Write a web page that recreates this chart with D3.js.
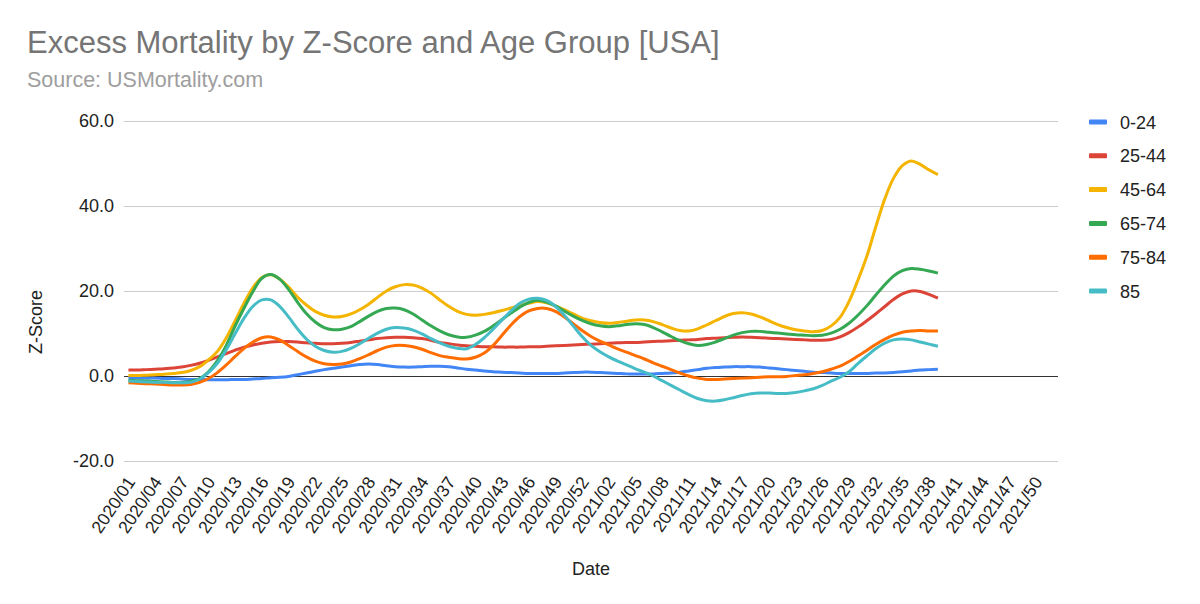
<!DOCTYPE html>
<html>
<head>
<meta charset="utf-8">
<script src="https://cdn.jsdelivr.net/npm/d3@7.9.0/dist/d3.min.js"></script>
<style>
  body { margin: 0; background: #fff; }
  svg { display: block; font-family: "Liberation Sans", Arial, Helvetica, sans-serif; }
</style>
</head>
<body>
<svg id="chart" width="1200" height="604"></svg>
<script>
// week labels: 2020 has 53 ISO weeks, 2021 has 52
const weeks2020 = d3.range(1, 54).map((w) => `2020/${String(w).padStart(2, '0')}`);
const weeks2021 = d3.range(1, 53).map((w) => `2021/${String(w).padStart(2, '0')}`);
const weeks = weeks2020.concat(weeks2021);

const yTicks = [-20, 0, 20, 40, 60];
const ageGroups = ['0-24', '25-44', '45-64', '65-74', '75-84', '85'];
const colors = ['#4285F4', '#DB4437', '#F4B400', '#34A853', '#FF6D01', '#46BDC6'];

// z-scores per week, 2020/01 .. 2021/39
const age0_24 = [
  -0.4, -0.4, -0.5, -0.5, -0.6, -0.6, -0.7, -0.8, -0.8, -0.9, -0.9, -0.9, -0.8, -0.8, -0.7, -0.6,
  -0.4, -0.3, -0.1, 0.3, 0.7, 1.1, 1.5, 1.8, 2.1, 2.4, 2.7, 2.8, 2.7, 2.4, 2.2, 2.1,
  2.1, 2.2, 2.3, 2.3, 2.2, 1.9, 1.6, 1.4, 1.2, 1.0, 0.9, 0.8, 0.7, 0.6, 0.6, 0.6,
  0.6, 0.7, 0.8, 0.9, 0.9, 0.8, 0.7, 0.6, 0.5, 0.5, 0.5, 0.5, 0.6, 0.7, 0.9, 1.2,
  1.5, 1.8, 2.0, 2.1, 2.2, 2.2, 2.2, 2.1, 1.9, 1.7, 1.5, 1.3, 1.1, 0.9, 0.8, 0.7,
  0.6, 0.6, 0.6, 0.6, 0.7, 0.7, 0.8, 1.0, 1.2, 1.4, 1.5, 1.6
];
const age25_44 = [
  1.4, 1.4, 1.5, 1.6, 1.7, 1.9, 2.1, 2.5, 3.0, 3.7, 4.5, 5.3, 6.1, 6.8, 7.3, 7.7,
  8.0, 8.1, 8.1, 8.0, 7.8, 7.7, 7.6, 7.6, 7.7, 7.9, 8.2, 8.5, 8.8, 9.0, 9.1, 9.1,
  9.0, 8.8, 8.4, 7.9, 7.6, 7.3, 7.1, 7.0, 6.9, 6.9, 6.8, 6.8, 6.8, 6.9, 6.9, 7.0,
  7.1, 7.2, 7.3, 7.4, 7.5, 7.6, 7.7, 7.8, 7.9, 7.9, 8.0, 8.1, 8.2, 8.3, 8.4, 8.5,
  8.6, 8.8, 8.9, 9.0, 9.1, 9.2, 9.1, 9.0, 8.9, 8.8, 8.7, 8.6, 8.5, 8.4, 8.4, 8.6,
  9.2, 10.2, 11.5, 13.0, 14.6, 16.3, 18.0, 19.3, 20.0, 19.9, 19.2, 18.3
];
const age45_64 = [
  0.1, 0.1, 0.2, 0.3, 0.4, 0.6, 0.8, 1.3, 2.2, 3.8, 5.8, 9.0, 13.0, 17.2, 20.8, 23.2,
  23.8, 22.8, 20.9, 18.6, 16.7, 15.2, 14.3, 13.9, 14.0, 14.6, 15.6, 16.9, 18.5, 20.0, 21.0, 21.5,
  21.4, 20.7, 19.5, 17.9, 16.4, 15.2, 14.5, 14.3, 14.5, 14.9, 15.4, 16.0, 16.6, 17.1, 17.5, 17.2,
  16.5, 15.6, 14.6, 13.6, 13.0, 12.6, 12.4, 12.6, 12.9, 13.2, 13.2, 12.8, 12.1, 11.3, 10.7, 10.6,
  11.1, 12.0, 13.0, 14.0, 14.7, 14.9, 14.6, 13.9, 13.0, 12.1, 11.4, 10.9, 10.6, 10.4, 10.7, 11.8,
  13.8, 17.5, 22.5, 28.1, 35.0, 41.5, 46.5, 49.5, 50.6, 49.8, 48.5, 47.4
];
const age65_74 = [
  -1.0, -1.1, -1.2, -1.3, -1.4, -1.5, -1.5, -1.3, -0.6, 1.0, 3.6, 7.2, 11.8, 16.0, 19.9, 23.0,
  23.9, 22.8, 20.4, 17.4, 14.7, 12.7, 11.4, 10.9, 11.0, 11.6, 12.8, 14.1, 15.2, 15.9, 16.0, 15.6,
  14.6, 13.2, 11.8, 10.6, 9.7, 9.2, 9.1, 9.6, 10.5, 11.8, 13.3, 14.8, 16.2, 17.3, 17.8, 17.4,
  16.5, 15.3, 14.1, 13.1, 12.3, 11.8, 11.6, 11.8, 12.1, 12.3, 12.1, 11.4, 10.4, 9.3, 8.3, 7.6,
  7.2, 7.4, 8.0, 8.8, 9.6, 10.2, 10.5, 10.5, 10.3, 10.1, 9.9, 9.7, 9.6, 9.5, 9.6, 10.1,
  11.0, 12.4, 14.3, 16.5, 19.0, 21.4, 23.5, 24.8, 25.3, 25.1, 24.7, 24.2
];
const age75_84 = [
  -1.6, -1.7, -1.8, -1.9, -2.0, -2.1, -2.1, -2.0, -1.5, -0.6, 0.8, 2.6, 4.6, 6.5, 8.0, 9.0,
  9.2, 8.5, 7.2, 5.8, 4.5, 3.5, 2.9, 2.7, 2.8, 3.3, 4.1, 5.0, 6.0, 6.8, 7.2, 7.2,
  6.9, 6.3, 5.5, 4.8, 4.4, 4.1, 4.0, 4.4, 5.4, 7.2, 9.6, 12.0, 14.0, 15.3, 15.9, 15.9,
  15.2, 13.9, 12.3, 10.7, 9.3, 8.2, 7.3, 6.4, 5.6, 4.8, 4.0, 3.1, 2.3, 1.5, 0.7, 0.0,
  -0.5, -0.8, -0.8, -0.7, -0.6, -0.5, -0.4, -0.3, -0.2, -0.2, -0.1, 0.1, 0.3, 0.6, 1.0, 1.6,
  2.3, 3.4, 4.7, 6.0, 7.4, 8.6, 9.6, 10.3, 10.6, 10.7, 10.6, 10.6
];
const age85 = [
  -1.2, -1.3, -1.4, -1.5, -1.5, -1.6, -1.6, -1.5, -0.7, 0.8, 3.0, 6.2, 10.0, 13.6, 16.4, 17.9,
  17.9, 16.4, 13.9, 11.1, 8.7, 7.0, 6.0, 5.6, 5.8, 6.5, 7.6, 8.9, 10.1, 11.0, 11.4, 11.3,
  10.8, 9.9, 8.8, 7.8, 7.0, 6.5, 6.4, 7.4, 9.0, 11.0, 13.2, 15.3, 17.1, 18.1, 18.3, 17.8,
  16.4, 14.3, 11.8, 9.3, 7.2, 5.7, 4.5, 3.5, 2.6, 1.7, 0.9, 0.0, -1.1, -2.2, -3.3, -4.4,
  -5.3, -5.8, -5.9, -5.6, -5.1, -4.6, -4.2, -4.0, -4.0, -4.1, -4.1, -3.9, -3.5, -3.0, -2.2, -1.2,
  -0.3, 1.0, 2.9, 4.7, 6.4, 7.7, 8.5, 8.7, 8.5, 8.0, 7.5, 7.0
];
const seriesValues = [age0_24, age25_44, age45_64, age65_74, age75_84, age85];

const svg = d3.select('#chart');
const plotLeft = 124, plotRight = 1058, plotTop = 121, plotBottom = 461;

const x = d3.scalePoint().domain(weeks).range([plotLeft, plotRight]).padding(0.5);
const y = d3.scaleLinear().domain([-20, 60]).range([plotBottom, plotTop]);

// title
svg.append('text').attr('x', 27).attr('y', 53)
  .attr('font-size', 31).attr('fill', '#757575')
  .text('Excess Mortality by Z-Score and Age Group [USA]');
svg.append('text').attr('x', 27).attr('y', 87)
  .attr('font-size', 21.5).attr('fill', '#9e9e9e')
  .text('Source: USMortality.com');

// y grid + labels (plain hyphen for negatives, like the sheet)
const fmt = (d) => d.toFixed(1);
const yAxis = svg.append('g').attr('transform', `translate(${plotLeft},0)`)
  .call(d3.axisLeft(y).tickValues(yTicks).tickFormat(fmt)
    .tickSize(-(plotRight - plotLeft)).tickPadding(10));
yAxis.select('.domain').remove();
yAxis.selectAll('.tick line')
  .attr('stroke', (d) => (d === 0 ? '#333' : '#ccc'))
  .attr('stroke-width', (d) => (d === 0 ? 1.2 : 1.1));
yAxis.selectAll('.tick text')
  .attr('font-size', 18).attr('fill', '#222')
  .attr('font-family', '"Liberation Sans", Arial, sans-serif');

// x labels every 3rd week
const xLabels = weeks.filter((d, i) => i % 3 === 0);
const xAxis = svg.append('g').attr('transform', `translate(0,${plotBottom})`)
  .call(d3.axisBottom(x).tickValues(xLabels).tickSize(0).tickPadding(0));
xAxis.select('.domain').remove();
xAxis.selectAll('.tick text')
  .attr('font-size', 17.5).attr('fill', '#222')
  .attr('font-family', '"Liberation Sans", Arial, sans-serif')
  .attr('text-anchor', 'end')
  .attr('dy', 0).attr('y', 0)
  .attr('transform', 'translate(7,21) rotate(-56)');

// axis titles
svg.append('text').attr('x', (plotLeft + plotRight) / 2).attr('y', 575)
  .attr('text-anchor', 'middle').attr('font-size', 18).attr('fill', '#222')
  .text('Date');
svg.append('text')
  .attr('transform', 'translate(42,322) rotate(-90)')
  .attr('text-anchor', 'middle').attr('font-size', 18).attr('fill', '#222')
  .text('Z-Score');

// lines
const line = d3.line()
  .x((d, i) => x(weeks[i]))
  .y((d) => y(d))
  .curve(d3.curveCatmullRom.alpha(0.5));

seriesValues.forEach((vals, k) => {
  svg.append('path')
    .attr('d', line(vals))
    .attr('fill', 'none')
    .attr('stroke', colors[k])
    .attr('stroke-width', 3)
    .attr('stroke-linejoin', 'round');
});

// legend
const legend = svg.append('g');
ageGroups.forEach((g, k) => {
  const ly = 122 + k * 33.8;
  legend.append('rect').attr('x', 1089).attr('y', ly - 2.5)
    .attr('width', 18).attr('height', 5).attr('rx', 1)
    .attr('fill', colors[k]);
  legend.append('text').attr('x', 1120).attr('y', ly + 6.5)
    .attr('font-size', 18).attr('fill', '#222').text(g);
});
</script>
</body>
</html>
